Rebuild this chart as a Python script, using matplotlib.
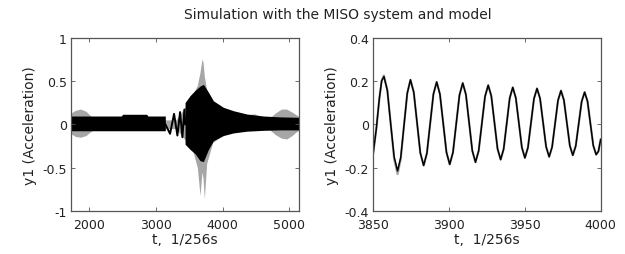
import matplotlib
matplotlib.use('Agg')
import matplotlib.pyplot as plt

plt.rcParams['font.family'] = ['DejaVu Sans']

# left panel: envelope of the simulated system (grey) and of the model (black)
sys_t = [1726, 1790, 1870, 1950, 2030, 2100, 3100, 3300, 3436, 3550, 3620, 3660, 3690, 3705, 3725,
         3760, 3850, 4011, 4161, 4361, 4420, 4470, 4540, 4611, 4700, 4790, 4880, 4960, 5040, 5100, 5144]
sys_hi = [0.13, 0.16, 0.175, 0.15, 0.09, 0.05, 0.05, 0.05, 0.2, 0.34, 0.45, 0.60, 0.75, 0.72, 0.55,
          0.40, 0.24, 0.17, 0.14, 0.11, 0.115, 0.12, 0.10, 0.08, 0.07, 0.13, 0.175, 0.175, 0.14, 0.11, 0.09]
sys_lo = [-0.11, -0.14, -0.15, -0.13, -0.08, -0.05, -0.05, -0.05, -0.18, -0.30, -0.50, -0.82, -0.55, -0.62, -0.86,
          -0.45, -0.21, -0.12, -0.09, -0.07, -0.065, -0.065, -0.06, -0.06, -0.06, -0.12, -0.16, -0.17, -0.13, -0.09, -0.07]

band_t = [1726, 2480, 2500, 2860, 2880, 3140]
band_hi = [0.095, 0.095, 0.115, 0.115, 0.095, 0.095]
band_lo = [-0.075, -0.075, -0.075, -0.075, -0.075, -0.075]

chirp_t = [3140, 3211, 3271, 3321, 3361, 3396, 3426, 3440]
chirp_y = [0.0, -0.11, 0.12, -0.13, 0.14, -0.15, 0.17, 0.0]

burst_t = [3436, 3511, 3586, 3661, 3711, 3786, 3861, 4011, 4161, 4361, 4611, 4861, 5144]
burst_hi = [0.25, 0.33, 0.39, 0.44, 0.46, 0.37, 0.27, 0.195, 0.156, 0.118, 0.095, 0.085, 0.08]
burst_lo = [-0.23, -0.29, -0.34, -0.42, -0.43, -0.29, -0.19, -0.13, -0.10, -0.08, -0.07, -0.065, -0.065]

# right panel: 3850..4000
zoom_t = [3850, 3852, 3854, 3855.5, 3857,
          3859.25, 3861.5, 3863.75, 3866,
          3868.1, 3870.25, 3872.4, 3874.5,
          3876.7, 3878.85, 3881.0, 3883.2,
          3885.35, 3887.5, 3889.65, 3891.8,
          3893.95, 3896.1, 3898.25, 3900.4,
          3902.55, 3904.7, 3906.85, 3909,
          3911.1, 3913.2, 3915.3, 3917.4,
          3919.5, 3921.6, 3923.7, 3925.8,
          3927.85, 3929.9, 3931.95, 3934,
          3936, 3938, 3940, 3942,
          3944, 3946, 3948, 3950,
          3952, 3954, 3956, 3958,
          3960, 3962, 3964, 3966,
          3967.95, 3969.9, 3971.85, 3973.8,
          3975.75, 3977.7, 3979.65, 3981.6,
          3983.55, 3985.5, 3987.45, 3989.4,
          3991.3, 3993.2, 3995.1, 3997,
          3998.5, 4000]
zoom_model = [-0.13, -0.02, 0.12, 0.20, 0.22,
              0.156, 0.0, -0.151, -0.215,
              -0.153, -0.005, 0.143, 0.205,
              0.147, 0.0075, -0.132, -0.19,
              -0.134, 0.0025, 0.139, 0.195,
              0.139, 0.005, -0.129, -0.185,
              -0.130, 0.0025, 0.135, 0.19,
              0.137, 0.0075, -0.122, -0.175,
              -0.123, 0.0025, 0.128, 0.18,
              0.130, 0.0085, -0.113, -0.163,
              -0.114, 0.0035, 0.121, 0.17,
              0.122, 0.0075, -0.107, -0.155,
              -0.108, 0.005, 0.118, 0.165,
              0.119, 0.0075, -0.104, -0.15,
              -0.105, 0.0025, 0.110, 0.155,
              0.111, 0.006, -0.099, -0.143,
              -0.100, 0.0025, 0.105, 0.148,
              0.106, 0.004, -0.098, -0.14,
              -0.125, -0.07]
zoom_sys = [-0.13, -0.02, 0.12, 0.20, 0.225,
            0.158, 0.0, -0.16, -0.23,
            -0.16, -0.005, 0.143, 0.205,
            0.147, 0.0075, -0.132, -0.19,
            -0.134, 0.0025, 0.139, 0.195,
            0.139, 0.005, -0.129, -0.185,
            -0.130, 0.0025, 0.135, 0.19,
            0.137, 0.0075, -0.122, -0.175,
            -0.123, 0.0025, 0.128, 0.18,
            0.130, 0.0085, -0.113, -0.163,
            -0.114, 0.0035, 0.121, 0.17,
            0.122, 0.0075, -0.107, -0.155,
            -0.108, 0.005, 0.118, 0.165,
            0.119, 0.0075, -0.104, -0.15,
            -0.105, 0.0025, 0.110, 0.155,
            0.111, 0.006, -0.099, -0.143,
            -0.100, 0.0025, 0.105, 0.148,
            0.106, 0.004, -0.098, -0.14,
            -0.125, -0.07]

left_xticks = [2000, 3000, 4000, 5000]
left_yticks = [-1, -0.5, 0, 0.5, 1]
left_ylabels = ['-1', '-0.5', '0', '0.5', '1']
right_xticks = [3850, 3900, 3950, 4000]
right_yticks = [-0.4, -0.2, 0, 0.2, 0.4]
right_ylabels = ['-0.4', '-0.2', '0', '0.2', '0.4']

grey = '#a6a6a6'
edge = '#555555'

fig = plt.figure(figsize=(6.25, 2.55), dpi=100)
ax1 = fig.add_axes([0.1136, 0.1686, 0.3648, 0.6804])
ax2 = fig.add_axes([0.5973, 0.1686, 0.3638, 0.6804])

ax1.fill_between(sys_t, sys_lo, sys_hi, color=grey, lw=0)
ax1.fill_between(band_t, band_lo, band_hi, color='black', lw=0)
ax1.plot(chirp_t, chirp_y, color='black', lw=1.4)
ax1.fill_between(burst_t, burst_lo, burst_hi, color='black', lw=0)
ax1.set_xlim(1726, 5144)
ax1.set_ylim(-1, 1)
ax1.set_xticks(left_xticks)
ax1.set_yticks(left_yticks)
ax1.set_yticklabels(left_ylabels)

ax2.plot(zoom_t, zoom_sys, color=grey, lw=1.6)
ax2.plot(zoom_t, zoom_model, color='black', lw=1.1)
ax2.set_xlim(3850, 4000)
ax2.set_ylim(-0.4, 0.4)
ax2.set_xticks(right_xticks)
ax2.set_yticks(right_yticks)
ax2.set_yticklabels(right_ylabels)

for ax in (ax1, ax2):
    ax.set_xlabel('t,  1/256s', fontsize=10, color='#222222', labelpad=1)
    ax.set_ylabel('y1 (Acceleration)', fontsize=10, color='#222222', labelpad=4)
    ax.tick_params(direction='in', length=3, width=0.6, top=True, right=True,
                   labelsize=9, labelcolor='#222222', color=edge, pad=3)
    ax.tick_params(axis='x', pad=5)
    for s in ax.spines.values():
        s.set_color(edge)
        s.set_linewidth(0.9)

fig.text(0.54, 0.94, 'Simulation with the MISO system and model', ha='center', va='center',
         fontsize=10, color='#222222')

fig.savefig('out.png', dpi=100)
